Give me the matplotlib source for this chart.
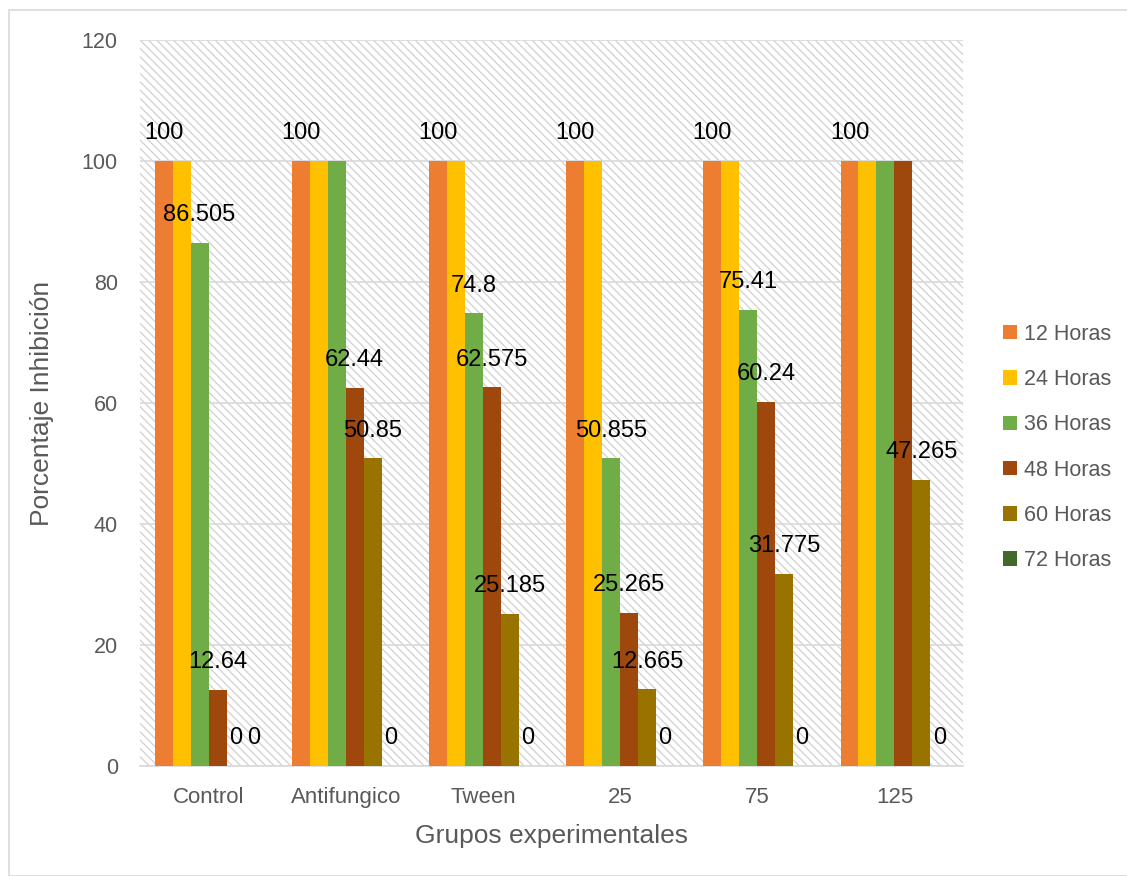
import matplotlib
matplotlib.use("Agg")
import matplotlib.pyplot as plt
from matplotlib.patches import Rectangle
import numpy as np

groups = ["Control", "Antifungico", "Tween", "25", "75", "125"]
series = ["12 Horas", "24 Horas", "36 Horas", "48 Horas", "60 Horas", "72 Horas"]
values = {
    "12 Horas": [100, 100, 100, 100, 100, 100],
    "24 Horas": [100, 100, 100, 100, 100, 100],
    "36 Horas": [86.505, 100, 74.8, 50.855, 75.41, 100],
    "48 Horas": [12.64, 62.44, 62.575, 25.265, 60.24, 100],
    "60 Horas": [0, 50.85, 25.185, 12.665, 31.775, 47.265],
    "72 Horas": [0, 0, 0, 0, 0, 0],
}
colors = ["#ED7D31", "#FFC000", "#70AD47", "#9E480E", "#997300", "#43682B"]
# which series' data labels are visible in each group (others hidden by overlap)
shown_labels = [
    [0, 2, 3, 4, 5],
    [0, 3, 4, 5],
    [0, 2, 3, 4, 5],
    [0, 2, 3, 4, 5],
    [0, 2, 3, 4, 5],
    [0, 4, 5],
]
yticks = [0, 20, 40, 60, 80, 100, 120]

plt.rcParams["font.family"] = ["Liberation Sans", "DejaVu Sans"]
plt.rcParams["hatch.linewidth"] = 0.9
plt.rcParams["hatch.color"] = "#d0d0d0"

W, H = 1127, 876
fig = plt.figure(figsize=(W / 100, H / 100), dpi=100)
fig.patches.append(Rectangle((9 / W, 0), 1.2, (H - 10) / H, transform=fig.transFigure,
                             facecolor="none", edgecolor="#d9d9d9", linewidth=1.2, zorder=-5))
ax = fig.add_axes([140 / W, 110 / H, 823 / W, 726 / H])
ax.set_facecolor("white")
ax.add_patch(Rectangle((0, 0), 1, 1, transform=ax.transAxes, facecolor="white",
                       hatch="\\\\\\\\", linewidth=0, zorder=0))

x = np.arange(len(groups))
bw = 0.131
n = len(series)
for i, s in enumerate(series):
    pos = x + (i - (n - 1) / 2) * bw
    ax.bar(pos, values[s], width=bw, color=colors[i], label=s, zorder=3, linewidth=0)

for g in range(len(groups)):
    for i in shown_labels[g]:
        v = values[series[i]][g]
        px = x[g] + (i - (n - 1) / 2) * bw
        ax.annotate(f"{v:g}", (px, v), xytext=(0, 20), textcoords="offset points",
                    ha="center", va="center", fontsize=17, color="black", zorder=5)

ax.set_xlim(-0.5, len(groups) - 0.5)
ax.set_ylim(0, 120)
ax.set_yticks(yticks)
ax.grid(axis="y", color="#d9d9d9", linewidth=1.2, zorder=1)
ax.set_axisbelow(True)
for sp in ["top", "right", "left"]:
    ax.spines[sp].set_visible(False)
ax.spines["bottom"].set_color("#d9d9d9")
ax.spines["bottom"].set_linewidth(1.2)
ax.tick_params(axis="both", length=0, labelcolor="#595959")
ax.tick_params(axis="y", pad=16, labelsize=15.5)
ax.tick_params(axis="x", pad=15, labelsize=16)
ax.set_xticks(x)
ax.set_xticklabels(groups)
ax.set_ylabel("Porcentaje Inhibición", fontsize=19, color="#595959", labelpad=20)
ax.set_xlabel("Grupos experimentales", fontsize=19, color="#595959", labelpad=12)

leg = fig.legend(loc="upper left", bbox_to_anchor=(994 / W, 1 - 315 / H), frameon=False,
                 fontsize=15.5, labelcolor="#595959", handlelength=0.65, handleheight=0.65,
                 handletextpad=0.35, labelspacing=1.13, borderaxespad=0)

fig.savefig("out.png", dpi=100)
